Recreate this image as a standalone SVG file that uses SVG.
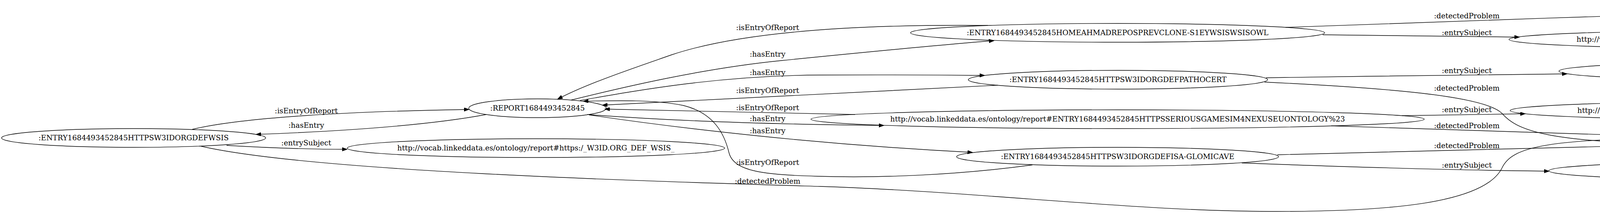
<svg xmlns="http://www.w3.org/2000/svg" width="5185" height="545" viewBox="0 0 5185 545">
<style>
.n ellipse{fill:none;stroke:#000;stroke-width:1.4}
text{font-family:"DejaVu Serif","Liberation Serif",serif;font-size:18.67px;fill:#000;text-anchor:middle}
.e path{fill:none;stroke:#000;stroke-width:1.4;marker-end:url(#arr)}
</style>
<defs>
<marker id="arr" markerUnits="userSpaceOnUse" viewBox="0 0 13.3 9.4" markerWidth="13.3" markerHeight="9.4" refX="13.3" refY="4.7" orient="auto">
<polygon points="0,0 13.3,4.7 0,9.4" fill="#000" stroke="#000" stroke-width="1"/>
</marker>
</defs>
<rect width="5185" height="545" fill="#fff"/>
<g id="connectors" class="e">
<path d="M492,331 C620,300 900,285 1201,280"/>
<path d="M1245,293 C1100,320 900,335 655,344"/>
<path d="M580,372 C680,378 780,382 889,382"/>
<path d="M514,374 C800,440 1700,465 2100,477 C2500,490 2900,540 3250,541 C3560,542 3800,520 3845,430 C3870,375 3960,353 4370,353"/>
<path d="M2529,65 C2200,62 1900,80 1720,140 C1620,175 1500,215 1427,254"/>
<path d="M1462,256 C1600,222 1800,175 2000,155 C2200,135 2400,115 2545,104"/>
<path d="M1485,257 C1650,228 1850,193 2100,192 C2300,191 2420,192 2521,193"/>
<path d="M2554,218 C2200,236 1900,251 1542,269"/>
<path d="M2189,293 C1950,288 1750,284 1548,279"/>
<path d="M1503,293 C1700,308 1950,318 2263,321"/>
<path d="M1508,294 C1750,330 2100,370 2490,390"/>
<path d="M2643,422 C2450,448 2250,456 2093,451 C1960,447 1878,440 1866,390 C1855,345 1830,290 1750,270 C1680,255 1580,257 1493,259"/>
<path d="M3291,70 C3600,58 4000,45 4348,34"/>
<path d="M3386,89 C3600,91 3750,93 3890,95"/>
<path d="M3241,199 C3500,195 3800,191 4012,189"/>
<path d="M3237,210 C3550,225 3800,245 3845,290 C3880,330 3950,370 4372,368"/>
<path d="M3589,296 C3700,294 3800,293 3905,291"/>
<path d="M3408,322 C3700,331 4000,342 4370,353"/>
<path d="M3270,396 C3600,389 4000,377 4372,368"/>
<path d="M3179,417 C3500,429 3750,436 3966,438"/>
</g>
<g id="edge-labels">
<text x="784" y="290">:isEntryOfReport</text>
<text x="784" y="327">:hasEntry</text>
<text x="784" y="372">:entrySubject</text>
<text x="1965" y="77">:isEntryOfReport</text>
<text x="1965" y="145">:hasEntry</text>
<text x="1965" y="192">:hasEntry</text>
<text x="1965" y="238">:isEntryOfReport</text>
<text x="1965" y="282">:isEntryOfReport</text>
<text x="1965" y="310">:hasEntry</text>
<text x="1965" y="341">:hasEntry</text>
<text x="1965" y="422">:isEntryOfReport</text>
<text x="1965" y="470">:detectedProblem</text>
<text x="3755" y="47">:detectedProblem</text>
<text x="3755" y="90">:entrySubject</text>
<text x="3755" y="187">:entrySubject</text>
<text x="3755" y="232">:detectedProblem</text>
<text x="3755" y="287">:entrySubject</text>
<text x="3755" y="328">:detectedProblem</text>
<text x="3755" y="379">:detectedProblem</text>
<text x="3755" y="429">:entrySubject</text>
</g>
<g id="n-wsis-entry" class="n"><ellipse cx="342" cy="353" rx="338" ry="24"/><text x="342" y="359">:ENTRY1684493452845HTTPSW3IDORGDEFWSIS</text></g>
<g id="n-report" class="n"><ellipse cx="1376" cy="277" rx="176" ry="24"/><text x="1376" y="283">:REPORT1684493452845</text></g>
<g id="n-wsis-subject" class="n"><ellipse cx="1372" cy="379" rx="483" ry="24"/><text x="1372" y="385">http://vocab.linkeddata.es/ontology/report#https:/_W3ID.ORG_DEF_WSIS_</text></g>
<g id="n-home-entry" class="n"><ellipse cx="2861" cy="84" rx="530" ry="24"/><text x="2861" y="90">:ENTRY1684493452845HOMEAHMADREPOSPREVCLONE-S1EYWSISWSISOWL</text></g>
<g id="n-patho-entry" class="n"><ellipse cx="2862" cy="204" rx="383" ry="24"/><text x="2862" y="210">:ENTRY1684493452845HTTPSW3IDORGDEFPATHOCERT</text></g>
<g id="n-serious-entry" class="n"><ellipse cx="2861" cy="305" rx="785" ry="24"/><text x="2861" y="311">http://vocab.linkeddata.es/ontology/report#ENTRY1684493452845HTTPSSERIOUSGAMESIM4NEXUSEUONTOLOGY%23</text></g>
<g id="n-glomi-entry" class="n"><ellipse cx="2861" cy="401" rx="412" ry="24"/><text x="2861" y="407">:ENTRY1684493452845HTTPSW3IDORGDEFISA-GLOMICAVE</text></g>
<g id="n-missing" class="n"><ellipse cx="4523" cy="29" rx="175" ry="24"/><text x="4523" y="35">:MISSINGTITLEORDESC</text></g>
<g id="n-owl-subject" class="n"><ellipse cx="4521" cy="101" rx="658" ry="24"/><text x="4521" y="107">http://vocab.linkeddata.es/ontology/report#/HOMEAHMADREPOSPREVCLONE-S1EYWSISWSIS.OWL</text></g>
<g id="n-patho-subject" class="n"><ellipse cx="4521" cy="182" rx="530" ry="24"/><text x="4521" y="188">http://vocab.linkeddata.es/ontology/report#https:/_W3ID.ORG_DEF_PATHOCERT_</text></g>
<g id="n-serious-subject" class="n"><ellipse cx="4521" cy="283" rx="655" ry="24"/><text x="4521" y="289">http://vocab.linkeddata.es/ontology/report#https:/_SERIOUSGAME.SIM4NEXUS.EU_ONTOLOGY%23</text></g>
<g id="n-license" class="n"><ellipse cx="4521" cy="360" rx="160" ry="24"/><text x="4521" y="366">:LICENSENOTFOUND</text></g>
<g id="n-glomi-subject" class="n"><ellipse cx="4521" cy="437" rx="556" ry="24"/><text x="4521" y="443">http://vocab.linkeddata.es/ontology/report#https:/_W3ID.ORG_DEF_ISA-GLOMICAVE_</text></g>
</svg>
